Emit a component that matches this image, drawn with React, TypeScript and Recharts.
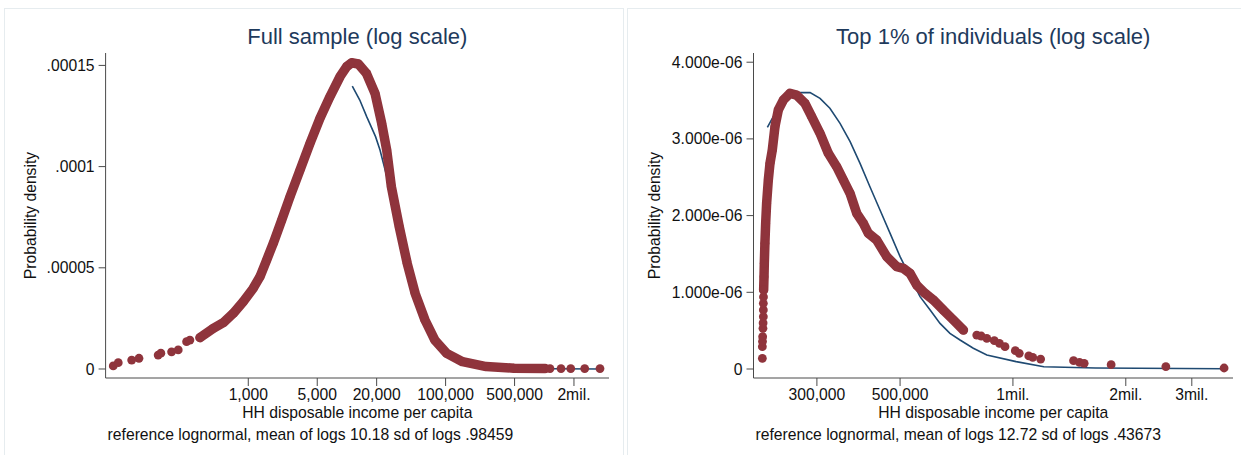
import { ScatterChart, Scatter, XAxis, YAxis } from "recharts"

// Full sample (log scale): [income, density]
const fullBand: [number, number][] = [
  [324, 1.55e-5], [442, 2.01e-5], [558, 2.29e-5], [705, 2.75e-5], [890, 3.33e-5],
  [1124, 3.99e-5], [1314, 4.56e-5], [1537, 5.39e-5], [1792, 6.21e-5], [2181, 7.36e-5],
  [2647, 8.51e-5], [3343, 9.83e-5], [4222, 1.115e-4], [5331, 1.239e-4], [6733, 1.346e-4],
  [8502, 1.444e-4], [9943, 1.494e-4], [11170, 1.513e-4], [13030, 1.507e-4], [15760, 1.461e-4],
  [19250, 1.362e-4], [22500, 1.214e-4], [25300, 1.082e-4], [28190, 9.01e-5], [33890, 7.03e-5],
  [40800, 5.22e-5], [49090, 3.74e-5], [61800, 2.42e-5], [77800, 1.43e-5], [102600, 7.7e-6],
  [148300, 3.6e-6], [258000, 1.2e-6], [492000, 4e-7], [1019000, 2e-7],
]
const fullLoose: [number, number][] = [
  [42.8, 1.5e-6], [48.1, 3.1e-6], [65.8, 4.4e-6], [78, 5.3e-6], [122, 6.9e-6],
  [130, 7.8e-6], [167, 8.5e-6], [195, 9.4e-6], [237, 1.35e-5], [256, 1.43e-5],
  [1143000, 2e-7], [1479000, 2e-7], [1855000, 2e-7], [2570000, 2e-7], [3670000, 2e-7],
]
const fullRef: [number, number][] = [
  [11330, 1.398e-4], [13490, 1.329e-4], [15850, 1.247e-4], [19500, 1.148e-4], [21630, 1.082e-4],
  [26920, 9.01e-5], [32360, 7.03e-5], [38960, 5.22e-5], [46880, 3.74e-5], [59020, 2.42e-5],
  [74300, 1.43e-5], [102600, 7.4e-6], [148300, 3.6e-6], [258000, 1.2e-6], [492000, 3e-7],
  [1240000, 1e-7], [3670000, 0],
]
const fullXTicks = [1000, 5000, 20000, 100000, 500000, 2000000]
const fullXLabels = ["1,000", "5,000", "20,000", "100,000", "500,000", "2mil."]
const fullYTicks = [0, 0.00005, 0.0001, 0.00015]
const fullYLabels = ["0", ".00005", ".0001", ".00015"]

// Top 1% of individuals (log scale)
const topBand: [number, number][] = [
  [216300, 1.03e-6], [216800, 1.204e-6], [217200, 1.378e-6],
  [218000, 1.638e-6], [219000, 1.899e-6], [220300, 2.16e-6], [222600, 2.464e-6], [224900, 2.681e-6],
  [228100, 2.855e-6], [231900, 3.16e-6], [236700, 3.377e-6], [244100, 3.507e-6], [254300, 3.594e-6],
  [264900, 3.572e-6], [278800, 3.464e-6], [290500, 3.29e-6], [305800, 3.073e-6], [321800, 2.812e-6],
  [338700, 2.638e-6], [353000, 2.464e-6], [367700, 2.29e-6], [383100, 2.03e-6], [399100, 1.899e-6],
  [411500, 1.769e-6], [433000, 1.682e-6], [460700, 1.465e-6], [489800, 1.334e-6], [510200, 1.312e-6],
  [531700, 1.247e-6], [553700, 1.095e-6], [582700, 0.987e-6], [613300, 0.9e-6], [652400, 0.769e-6],
  [693800, 0.639e-6], [737900, 0.508e-6],
]
const topLoose: [number, number][] = [
  [214600, 0.139e-6], [214600, 0.291e-6], [214800, 0.36e-6], [215000, 0.422e-6], [215400, 0.53e-6],
  [215600, 0.6e-6], [215900, 0.682e-6], [215900, 0.77e-6], [215900, 0.856e-6], [216100, 0.94e-6],
  [800700, 0.443e-6], [823200, 0.43e-6], [851800, 0.4e-6], [891900, 0.369e-6], [920600, 0.335e-6],
  [952500, 0.291e-6], [1014700, 0.239e-6], [1039700, 0.204e-6], [1102300, 0.17e-6], [1129300, 0.152e-6],
  [1185500, 0.13e-6], [1451000, 0.109e-6], [1505000, 0.087e-6], [1549000, 0.074e-6], [1828000, 0.056e-6],
  [2558000, 0.03e-6], [3658000, 0.013e-6],
]
const topRef: [number, number][] = [
  [221300, 3.151e-6], [229500, 3.29e-6], [239200, 3.42e-6], [254200, 3.559e-6], [270500, 3.603e-6],
  [287700, 3.603e-6], [305800, 3.529e-6], [324900, 3.399e-6], [345800, 3.203e-6], [367900, 2.964e-6],
  [391000, 2.681e-6], [415500, 2.377e-6], [442000, 2.073e-6], [470300, 1.769e-6], [500000, 1.465e-6],
  [531300, 1.204e-6], [565200, 0.943e-6], [601400, 0.769e-6], [639100, 0.595e-6], [679200, 0.465e-6],
  [722500, 0.378e-6], [784100, 0.27e-6], [851800, 0.183e-6], [1019800, 0.096e-6], [1209000, 0.03e-6],
  [1659000, 0.013e-6], [3658000, 0.004e-6],
]
const topXTicks = [300000, 500000, 1000000, 2000000, 3000000]
const topXLabels = ["300,000", "500,000", "1mil.", "2mil.", "3mil."]
const topYTicks = [0, 1e-6, 2e-6, 3e-6, 4e-6]
const topYLabels = ["0", "1.000e-06", "2.000e-06", "3.000e-06", "4.000e-06"]

const maroon = "#8f343c"
const navy = "#1f4a72"
const axisColor = "#4a4a4a"
const font = "'Liberation Sans', Arial, sans-serif"

const toPts = (arr: [number, number][]) => arr.map(([x, y]) => ({ x, y }))

function Dot(props: any) {
  if (props.cx == null || props.cy == null) return <g />
  return <circle cx={props.cx} cy={props.cy} r={4.4} fill={maroon} />
}

function Panel(props: {
  left: number
  width: number
  yAxisWidth: number
  marginRight: number
  xDomain: [number, number]
  yDomain: [number, number]
  xTicks: number[]
  xLabels: string[]
  yTicks: number[]
  yLabels: string[]
  band: [number, number][]
  loose: [number, number][]
  reference: [number, number][]
  title: string
  note: string
  yLabelX: number
}) {
  const plotLeft = props.yAxisWidth
  const plotRight = props.width - props.marginRight
  const center = (plotLeft + plotRight) / 2
  const fmtX = (v: number) => props.xLabels[props.xTicks.indexOf(v)] ?? ""
  const fmtY = (v: number) => props.yLabels[props.yTicks.indexOf(v)] ?? ""
  return (
    <div style={{ position: "absolute", left: props.left, top: 0, width: props.width, height: 455 }}>
      <ScatterChart
        width={props.width}
        height={455}
        margin={{ top: 53, right: props.marginRight, bottom: 47, left: 0 }}
      >
        <XAxis
          type="number"
          dataKey="x"
          scale="log"
          domain={props.xDomain}
          allowDataOverflow
          ticks={props.xTicks}
          tickFormatter={fmtX}
          height={30}
          tickSize={8}
          tickMargin={3}
          stroke={axisColor}
          tick={{ fill: "#111", fontSize: 15.7, fontFamily: font }}
          interval={0}
        />
        <YAxis
          type="number"
          dataKey="y"
          domain={props.yDomain}
          allowDataOverflow
          ticks={props.yTicks}
          tickFormatter={fmtY}
          width={props.yAxisWidth}
          tickSize={7}
          tickMargin={4}
          stroke={axisColor}
          tick={{ fill: "#111", fontSize: 15.7, fontFamily: font }}
          interval={0}
        />
        <Scatter
          data={toPts(props.reference)}
          line={{ stroke: navy, strokeWidth: 1.6 }}
          shape={() => <g />}
          isAnimationActive={false}
        />
        <Scatter
          data={toPts(props.band)}
          line={{ stroke: maroon, strokeWidth: 9.5, strokeLinejoin: "round", strokeLinecap: "round" }}
          shape={Dot}
          isAnimationActive={false}
        />
        <Scatter data={toPts(props.loose)} shape={Dot} isAnimationActive={false} />
      </ScatterChart>
      <div
        style={{
          position: "absolute", left: center - 250, top: 24, width: 500, textAlign: "center",
          fontFamily: font, fontSize: 22, lineHeight: "26px", color: "#1e3a5c",
        }}
      >
        {props.title}
      </div>
      <div
        style={{
          position: "absolute", left: center - 200, top: 403, width: 400, textAlign: "center",
          fontFamily: font, fontSize: 15.7, lineHeight: "19px", color: "#111",
        }}
      >
        HH disposable income per capita
      </div>
      <div
        style={{
          position: "absolute", left: plotLeft + 2, top: 424.5, whiteSpace: "nowrap",
          fontFamily: font, fontSize: 15.7, lineHeight: "19px", color: "#111",
        }}
      >
        {props.note}
      </div>
      <div
        style={{
          position: "absolute", left: props.yLabelX - 100, top: 215 - 9.5, width: 200, textAlign: "center",
          fontFamily: font, fontSize: 15.7, lineHeight: "19px", color: "#111",
          transform: "rotate(-90deg)",
        }}
      >
        Probability density
      </div>
    </div>
  )
}

export default function App() {
  return (
    <div style={{ position: "absolute", left: 0, top: 0, width: 1241, height: 455, background: "#fff", overflow: "hidden" }}>
      <div style={{ position: "absolute", left: 4, top: 8, width: 620, height: 460, border: "1px solid #e6ecef", boxSizing: "border-box" }} />
      <div style={{ position: "absolute", left: 627, top: 8, width: 630, height: 460, border: "1px solid #e6ecef", boxSizing: "border-box" }} />
      <Panel
        left={0}
        width={620}
        yAxisWidth={105.6}
        marginRight={11}
        xDomain={[35.8, 4530000]}
        yDomain={[-4.45e-6, 1.5613e-4]}
        xTicks={fullXTicks}
        xLabels={fullXLabels}
        yTicks={fullYTicks}
        yLabels={fullYLabels}
        band={fullBand}
        loose={fullLoose}
        reference={fullRef}
        title="Full sample (log scale)"
        note="reference lognormal, mean of logs 10.18 sd of logs .98459"
        yLabelX={29.7}
      />
      <Panel
        left={620}
        width={621}
        yAxisWidth={133.5}
        marginRight={8}
        xDomain={[203240, 3863700]}
        yDomain={[-0.1173e-6, 4.12e-6]}
        xTicks={topXTicks}
        xLabels={topXLabels}
        yTicks={topYTicks}
        yLabels={topYLabels}
        band={topBand}
        loose={topLoose}
        reference={topRef}
        title="Top 1% of individuals (log scale)"
        note="reference lognormal, mean of logs 12.72 sd of logs .43673"
        yLabelX={33.7}
      />
    </div>
  )
}
